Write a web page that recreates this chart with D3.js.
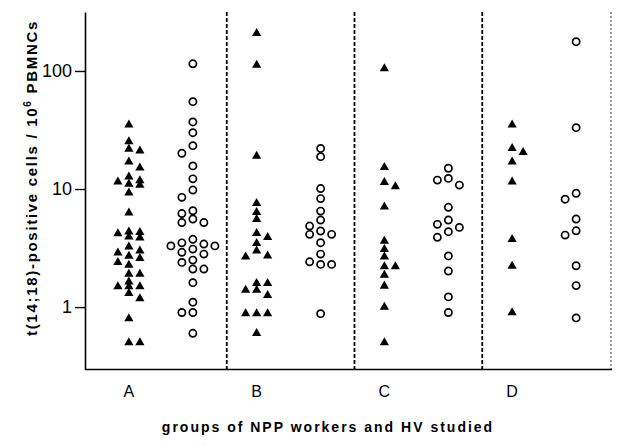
<!DOCTYPE html>
<html>
<head>
<meta charset="utf-8">
<script src="https://cdn.jsdelivr.net/npm/d3@7"></script>
<style>
  body { margin: 0; background: #fff; }
  svg { display: block; font-family: "Liberation Sans", Arial, sans-serif; }
</style>
</head>
<body>
<svg id="chart" width="618" height="446"></svg>
<script>
const groups = ['A', 'B', 'C', 'D'];
const yTicks = [1, 10, 100];

// filled triangles
const triA = [34.9, 25.2, 21.8, 21.1, 17.0, 15.1, 12.7, 11.8, 11.5, 11.0, 10.8, 9.3, 6.3, 4.35, 4.3, 4.2, 3.94, 3.87,
  3.24, 3.0, 2.88, 2.71, 2.59, 2.39, 2.27, 1.9, 1.9, 1.64, 1.49, 1.49, 1.49, 1.31, 1.18, 0.8, 0.5, 0.5];
const triB = [208, 112, 19, 7.56, 6.35, 5.53, 4.21, 3.9, 3.46, 3.0, 2.72, 2.67, 1.59, 1.59, 1.39, 1.39, 1.26,
  0.88, 0.88, 0.88, 0.6];
const triC = [105, 15.3, 11.4, 10.5, 7.08, 3.62, 3.08, 2.67, 2.2, 2.2, 1.87, 1.51, 1.0, 0.5];
const triD = [34.9, 22.1, 20.5, 17.0, 11.5, 3.75, 2.23, 0.9];

// open circles
const circA = [115, 55, 37, 30, 23.3, 20.1, 15.7, 12.2, 9.8, 8.5, 6.55, 6.2, 5.57, 5.2, 5.2, 3.75, 3.5, 3.42,
  3.3, 3.3, 3.1, 2.91, 2.81, 2.5, 2.39, 2.1, 2.1, 1.61, 1.1, 0.9, 0.9, 0.6];
const circB = [22.1, 18.8, 10.1, 8.3, 6.5, 5.46, 4.86, 4.41, 4.13, 4.13, 3.51, 2.81, 2.42, 2.3, 2.3, 0.88];
const circC = [15.0, 12.3, 11.9, 10.8, 7.0, 5.46, 5.02, 4.73, 4.35, 3.9, 2.71, 2.02, 1.22, 0.9];
const circD = [177, 33.1, 9.2, 8.2, 5.57, 4.43, 4.07, 2.24, 1.52, 0.81];

const tri = [triA, triB, triC, triD];
const circ = [circA, circB, circC, circD];

const svg = d3.select('#chart');
const left = 85, right = 612, plotTop = 12, plotBottom = 369.5;

const y = d3.scaleLog().domain([0.296, 316]).range([plotBottom, plotTop]);
const x = d3.scaleBand().domain(groups).range([97, 608]);
const bw = x.bandwidth();
const half = 32;   // distance of each column from the band centre
const slot = 11;   // horizontal step between side-by-side points

// simple dot-plot layout: centre column first, then the sides;
// if every column is crowded take the one with the most room
function swarm(values, cx, cols, gap) {
  const placed = [];
  values.slice().sort((a, b) => b - a).forEach(v => {
    const py = y(v);
    const room = k => d3.min(placed.filter(p => p.k === k), p => Math.abs(p.py - py)) ?? Infinity;
    let k = cols.find(k => room(k) >= gap);
    if (k === undefined) k = d3.greatest(cols, k => room(k));
    placed.push({ v, py, k });
  });
  return placed.map(p => ({ ...p, px: cx + p.k * slot }));
}

// group separators
svg.append('g').selectAll('line')
  .data(groups.slice(0, -1))
  .join('line')
  .attr('x1', d => x(d) + bw + 2).attr('x2', d => x(d) + bw + 2)
  .attr('y1', plotTop).attr('y2', plotBottom)
  .attr('stroke', '#000').attr('stroke-width', 1.8)
  .attr('stroke-dasharray', '4,2');

svg.append('line')
  .attr('x1', 611).attr('x2', 611).attr('y1', plotTop).attr('y2', plotBottom)
  .attr('stroke', '#000').attr('stroke-width', 0.8)
  .attr('stroke-dasharray', '2,2');

// y axis
const yAxis = svg.append('g')
  .attr('transform', `translate(${left},0)`)
  .call(d3.axisLeft(y).tickValues(yTicks).tickFormat(d3.format('d')).tickSize(10).tickSizeOuter(0).tickPadding(3));
yAxis.select('.domain').attr('stroke-width', 1.6);
yAxis.selectAll('.tick line').attr('stroke-width', 1.4);
yAxis.selectAll('text').attr('font-size', 18).attr('fill', '#000')
  .attr('font-family', '"Liberation Sans", Arial, sans-serif');

// x axis
const xAxis = svg.append('g')
  .attr('transform', `translate(0,${plotBottom})`)
  .call(d3.axisBottom(x).tickSize(0).tickPadding(16));
xAxis.select('.domain').remove();
xAxis.selectAll('text').attr('x', -half).attr('font-size', 16).attr('fill', '#000')
  .attr('font-family', '"Liberation Sans", Arial, sans-serif');
svg.append('line')
  .attr('x1', left).attr('x2', right).attr('y1', plotBottom).attr('y2', plotBottom)
  .attr('stroke', '#000').attr('stroke-width', 1.6);

// points
const triSym = d3.symbol().type(d3.symbolTriangle).size(37);
groups.forEach((g, i) => {
  const c = x(g) + bw / 2;
  svg.append('g').selectAll('path')
    .data(swarm(tri[i], c - half, [0, 1, -1], 7))
    .join('path')
    .attr('d', triSym)
    .attr('transform', d => `translate(${d.px},${d.py})`)
    .attr('fill', '#000');
  svg.append('g').selectAll('circle')
    .data(swarm(circ[i], c + half, [0, -1, 1, -2, 2], 8))
    .join('circle')
    .attr('cx', d => d.px).attr('cy', d => d.py).attr('r', 3.6)
    .attr('fill', '#fff').attr('stroke', '#000').attr('stroke-width', 1.7);
});

// titles
const yTitle = svg.append('text')
  .attr('transform', 'translate(37,178) rotate(-90)')
  .attr('text-anchor', 'middle')
  .attr('font-size', 15).attr('font-weight', 'bold').attr('letter-spacing', 1.7);
yTitle.append('tspan').text('t(14;18)-positive cells / 10');
yTitle.append('tspan').attr('font-size', 10).attr('dy', -6).text('6');
yTitle.append('tspan').attr('dy', 6).text(' PBMNCs');

svg.append('text')
  .attr('x', 328).attr('y', 432)
  .attr('text-anchor', 'middle')
  .attr('font-size', 14).attr('font-weight', 'bold').attr('letter-spacing', 2)
  .text('groups of NPP workers and HV studied');
</script>
</body>
</html>
